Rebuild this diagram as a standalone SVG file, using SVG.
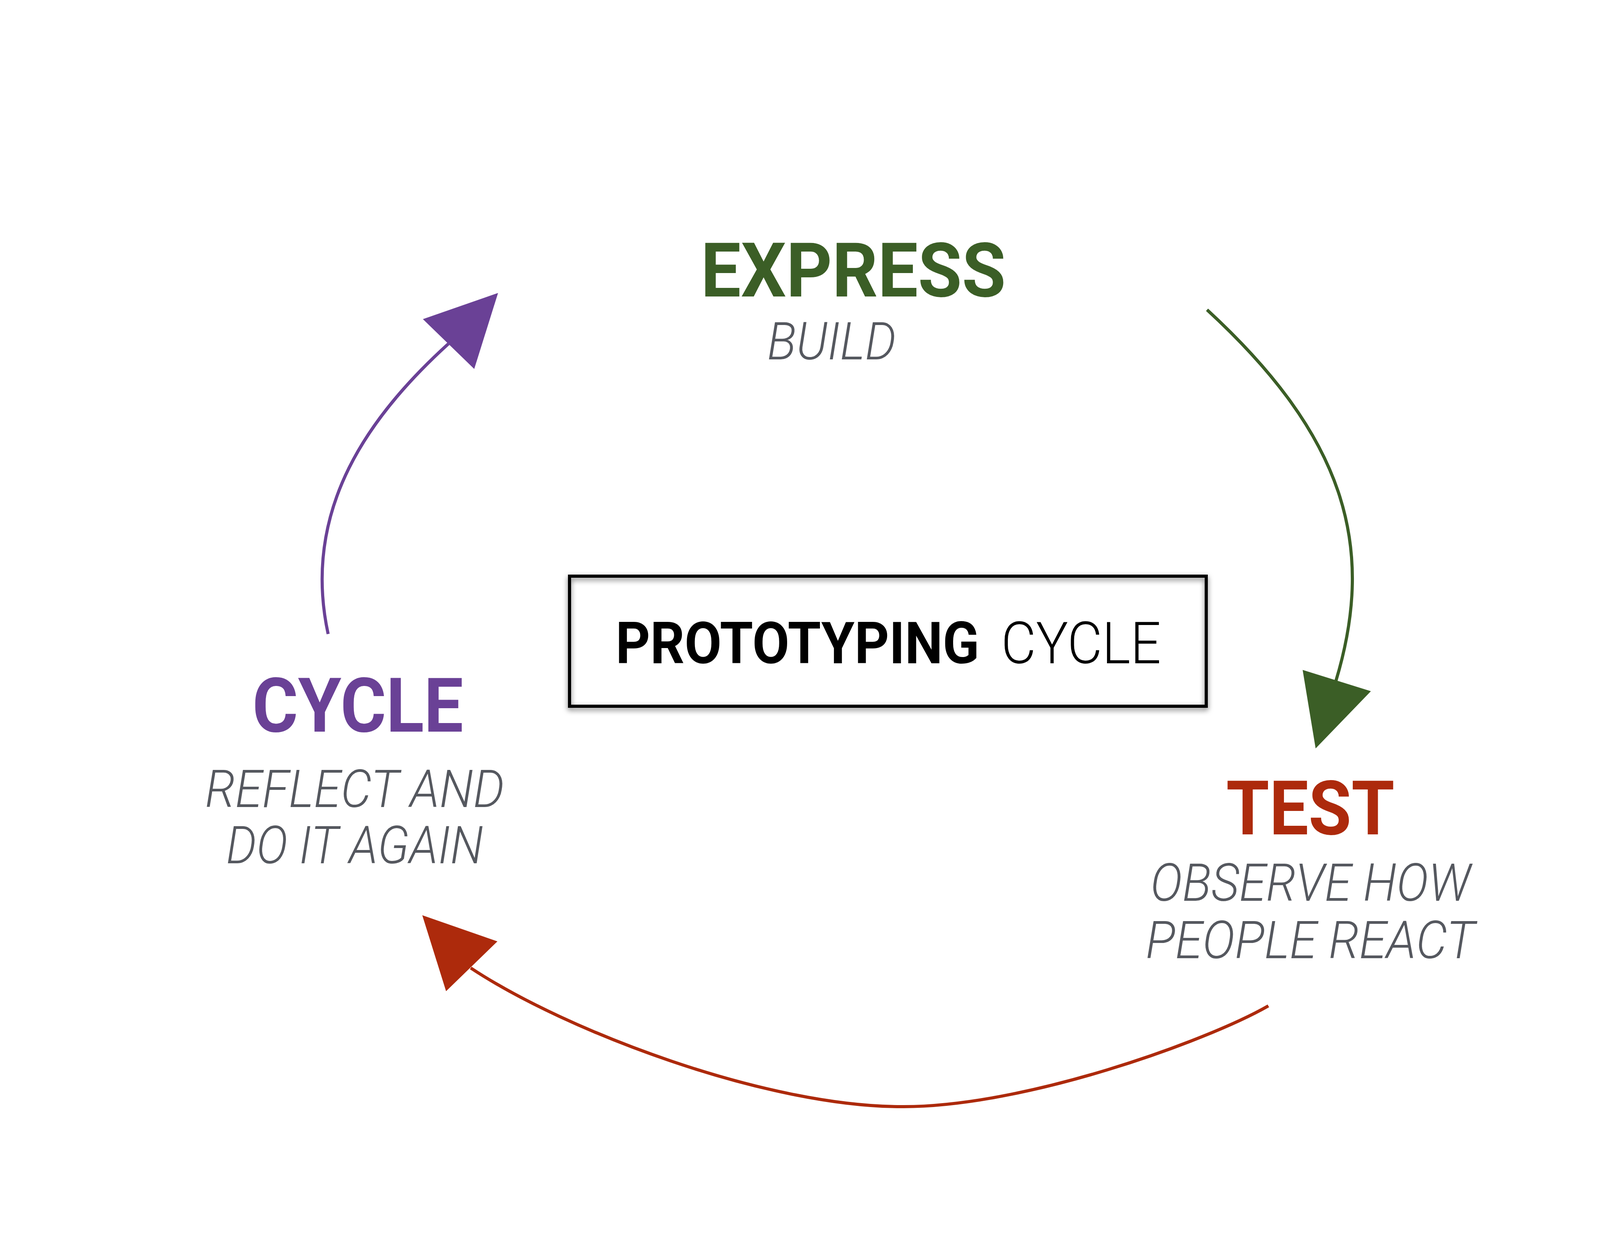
<svg xmlns="http://www.w3.org/2000/svg" xmlns:xlink="http://www.w3.org/1999/xlink" width="4266" height="3200" viewBox="0 0 4266 3200">
<defs>
<style>
.title{font-family:Roboto,"Liberation Sans",sans-serif;font-weight:700;font-size:193px}
.sub{font-family:Roboto,"Liberation Sans",sans-serif;font-weight:300;font-style:italic;font-size:134px;fill:#55585f}
.center-b{font-family:Roboto,"Liberation Sans",sans-serif;font-weight:700;font-size:148px;fill:#000}
.center-l{font-family:Roboto,"Liberation Sans",sans-serif;font-weight:300;font-size:148px;fill:#000}
.green{fill:#3b5e26}
.red{fill:#ad2a0c}
.purple{fill:#6a4196}
.conn{fill:none;stroke-width:8}
</style>
<filter id="shadow" x="-5%" y="-15%" width="110%" height="135%">
<feDropShadow dx="0" dy="6" stdDeviation="7" flood-color="#000" flood-opacity="0.55"/>
</filter>
<path id="head" d="M0,0 L-182,-91.5 L-182,91.5 Z"/>
</defs>
<rect width="4266" height="3200" fill="#fff"/>

<g id="connectors">
<path class="conn" stroke="#3b5e26" d="M3090,793 C3440,1115 3525,1395 3420,1743"/>
<use xlink:href="#head" href="#head" class="green" transform="translate(3368,1916) rotate(107.3)"/>
<path class="conn" stroke="#ad2a0c" d="M3247,2575 C3090,2665 2620,2835 2308,2833 C1960,2833 1450,2640 1205,2478"/>
<use xlink:href="#head" href="#head" class="red" transform="translate(1081,2343) rotate(-134.1)"/>
<path class="conn" stroke="#6a4196" d="M840,1623 C770,1300 950,1060 1148,880"/>
<use xlink:href="#head" href="#head" class="purple" transform="translate(1275,750) rotate(-45.9)"/>
</g>

<g id="node-express">
<text class="title green" x="1794" y="759" textLength="781" lengthAdjust="spacingAndGlyphs">EXPRESS</text>
<text class="sub" x="1964" y="920" textLength="330" lengthAdjust="spacingAndGlyphs">BUILD</text>
</g>

<g id="node-test">
<text class="title red" x="3139" y="2136" textLength="431" lengthAdjust="spacingAndGlyphs">TEST</text>
<text class="sub" x="2945" y="2306" textLength="820" lengthAdjust="spacingAndGlyphs">OBSERVE HOW</text>
<text class="sub" x="2933" y="2453" textLength="843" lengthAdjust="spacingAndGlyphs">PEOPLE REACT</text>
</g>

<g id="node-cycle">
<text class="title purple" x="646" y="1873" textLength="540" lengthAdjust="spacingAndGlyphs">CYCLE</text>
<text class="sub" x="525" y="2066" textLength="766" lengthAdjust="spacingAndGlyphs">REFLECT AND</text>
<text class="sub" x="579" y="2210" textLength="658" lengthAdjust="spacingAndGlyphs">DO IT AGAIN</text>
</g>

<g id="node-center">
<rect x="1458" y="1475" width="1630" height="333" fill="none" stroke="#000" stroke-width="8" filter="url(#shadow)"/>
<text class="center-b" x="1576" y="1698" textLength="931" lengthAdjust="spacingAndGlyphs">PROTOTYPING</text>
<text class="center-l" x="2563" y="1698" textLength="409" lengthAdjust="spacingAndGlyphs">CYCLE</text>
</g>
</svg>
